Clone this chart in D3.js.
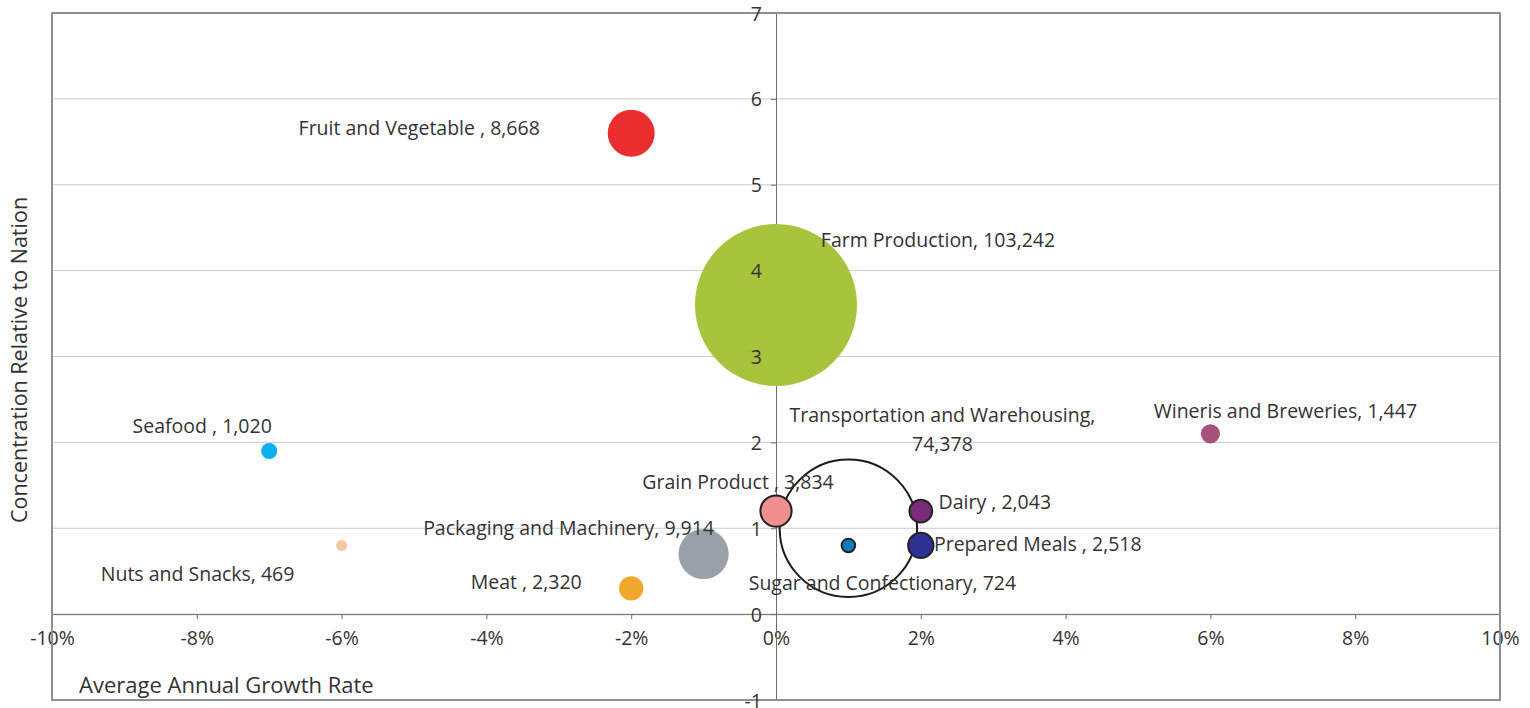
<!DOCTYPE html>
<html>
<head>
<meta charset="utf-8">
<script src="https://cdn.jsdelivr.net/npm/d3@7"></script>
<style>
  html, body { margin: 0; padding: 0; background: #fff; }
  svg text { font-family: "Open Sans", Lato, sans-serif; fill: #333; }
</style>
</head>
<body>
<svg id="chart" width="1530" height="708"></svg>
<script>
// ---- data ----
const categories = ["Fruit and Vegetable ", "Farm Production", "Transportation and Warehousing", "Wineris and Breweries", "Seafood ", "Grain Product ", "Dairy ", "Packaging and Machinery", "Prepared Meals ", "Nuts and Snacks", "Meat ", "Sugar and Confectionary"];
const growthRate = [-0.02, 0.00, 0.01, 0.06, -0.07, 0.00, 0.02, -0.01, 0.02, -0.06, -0.02, 0.01];
const concentration = [5.6, 3.6, 1.0, 2.1, 1.9, 1.2, 1.2, 0.7, 0.8, 0.8, 0.3, 0.8];
const employment = [8668, 103242, 74378, 1447, 1020, 3834, 2043, 9914, 2518, 469, 2320, 724];
const xTicks = [-0.10, -0.08, -0.06, -0.04, -0.02, 0, 0.02, 0.04, 0.06, 0.08, 0.10];
const yTicks = [-1, 0, 1, 2, 3, 4, 5, 6, 7];

// ---- styles / layout (not data) ----
const fills = ["#ea2e2f", "#a8c43c", "none", "#a5527f", "#0ab0ee", "#ef8f8e", "#7c2b78", "#9aa0a7", "#2e3192", "#f3c9a2", "#f0a72e", "#0a7cc2"];
const strokes = [null, null, "#1a1a1a", null, null, "#222", "#222", null, "#222", null, null, "#222"];
// label offsets relative to bubble centre (text-anchor middle)
const labelDx = [-212, 162, 94, 75, -67, -38, 74, -135, 117, -144, -105, 34];
const labelDy = [-6, -65, -114, -23, -25, -30, -10, -27, -2, 28, -7, 37];

const svg = d3.select("#chart");
const L = 52, R = 1500, T = 13, B = 700;
const FS = 19.5, TFS = 22;

const x = d3.scaleLinear().domain([-0.10, 0.10]).range([L, R]);
const y = d3.scaleLinear().domain([-1, 7]).range([B, T]);
const r = d3.scaleSqrt().domain([0, d3.max(employment)]).range([0, 81]);
const pct = v => (Math.round(v * 100)) + "%";

// gridlines
svg.append("g").selectAll("line").data(yTicks.filter(d => d > -1 && d < 7)).join("line")
  .attr("x1", L).attr("x2", R)
  .attr("y1", d => y(d)).attr("y2", d => y(d))
  .attr("stroke", "#c6cacf").attr("stroke-width", 1);

// axes (lines + ticks)
const xAxis = d3.axisBottom(x).tickValues(xTicks).tickFormat(pct).tickSize(5).tickPadding(12);
const gx = svg.append("g").attr("transform", `translate(0,${y(0)})`).call(xAxis);
gx.select(".domain").attr("stroke", "#6e6e6e");
gx.selectAll(".tick line").attr("stroke", "#6e6e6e");
gx.selectAll("text").attr("font-size", FS).attr("fill", "#333").attr("dy", "0.71em");

const yAxis = d3.axisLeft(y).tickValues(yTicks).tickSize(5).tickPadding(9);
const gy = svg.append("g").attr("transform", `translate(${x(0)},0)`).call(yAxis);
gy.select(".domain").attr("stroke", "#6e6e6e");
gy.selectAll(".tick line").attr("stroke", "#6e6e6e");
gy.selectAll("text").remove();

// frame
svg.append("rect").attr("x", L).attr("y", T).attr("width", R - L).attr("height", B - T)
  .attr("fill", "none").attr("stroke", "#8d9197").attr("stroke-width", 2);

// bubbles
const idx = d3.range(categories.length).sort((a, b) => employment[b] - employment[a]);
svg.append("g").selectAll("circle").data(idx).join("circle")
  .attr("cx", i => x(growthRate[i]))
  .attr("cy", i => y(concentration[i]))
  .attr("r", i => r(employment[i]))
  .attr("fill", i => fills[i])
  .attr("stroke", i => strokes[i] || "none")
  .attr("stroke-width", i => strokes[i] ? 2 : 0);

// y tick labels on top of bubbles
svg.append("g").selectAll("text").data(yTicks).join("text")
  .attr("x", x(0) - 14).attr("y", d => y(d))
  .attr("text-anchor", "end").attr("dominant-baseline", "central")
  .attr("font-size", FS).text(d => d);

// labels
const fmt = d3.format(",");
const lg = svg.append("g");
d3.range(categories.length).forEach(i => {
  const cx = x(growthRate[i]) + labelDx[i];
  const cy = y(concentration[i]) + labelDy[i];
  const t = lg.append("text").attr("text-anchor", "middle").attr("font-size", FS)
    .attr("dominant-baseline", "central");
  if (i === 2) {
    t.append("tspan").attr("x", cx).attr("y", cy).text(categories[i] + ",");
    t.append("tspan").attr("x", cx).attr("y", cy + 29).text(fmt(employment[i]));
  } else {
    t.attr("x", cx).attr("y", cy).text(categories[i] + ", " + fmt(employment[i]));
  }
});

// axis titles
svg.append("text").attr("x", 79).attr("y", 684).attr("font-size", TFS)
  .attr("dominant-baseline", "central").text("Average Annual Growth Rate");
svg.append("text").attr("transform", `translate(18,360) rotate(-90)`)
  .attr("text-anchor", "middle").attr("dominant-baseline", "central").attr("font-size", TFS - 0.5)
  .text("Concentration Relative to Nation");
</script>
</body>
</html>
